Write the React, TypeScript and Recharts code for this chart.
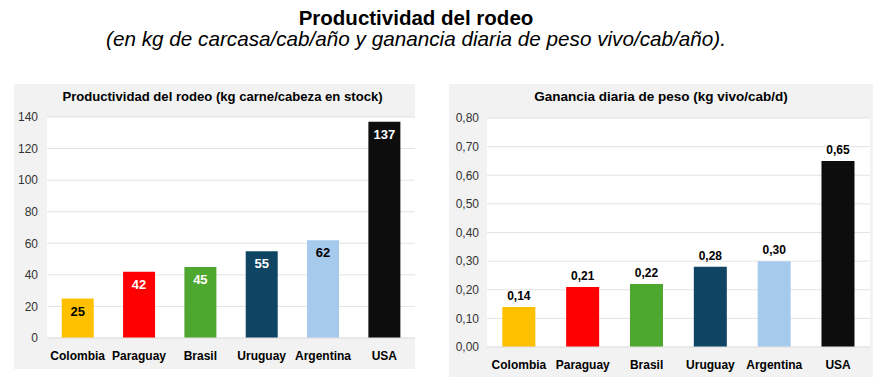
import React from "react";
import { BarChart, Bar, XAxis, YAxis, CartesianGrid, Cell, LabelList } from "recharts";

// countries shown in both panels
const countries = ["Colombia", "Paraguay", "Brasil", "Uruguay", "Argentina", "USA"];
const barColors = ["#FFC000", "#FF0000", "#4EA72E", "#0F4562", "#A6CAEC", "#0D0D0D"];

// kg carne / cabeza en stock
const productividad = [25, 42, 45, 55, 62, 137];
const productividadLabelColors = ["#000", "#fff", "#fff", "#fff", "#000", "#fff"];
const productividadTicks = [0, 20, 40, 60, 80, 100, 120, 140];

// kg vivo / cab / d
const ganancia = [0.14, 0.21, 0.22, 0.28, 0.3, 0.65];
const gananciaTicks = [0, 0.1, 0.2, 0.3, 0.4, 0.5, 0.6, 0.7, 0.8];

const leftData = countries.map((c, i) => ({ name: c, value: productividad[i] }));
const rightData = countries.map((c, i) => ({ name: c, value: ganancia[i] }));

const font = "Liberation Sans, Arial, sans-serif";
const fmtComma = (v: number) => v.toFixed(2).replace(".", ",");

const panelTitle: React.CSSProperties = {
  position: "absolute",
  top: 5,
  left: 0,
  right: 0,
  textAlign: "center",
  fontFamily: font,
  fontWeight: "bold",
  fontSize: 13.5,
  color: "#000",
};

// label drawn inside the top of the bar, color per bar
const InsideLabel = (props: any) => {
  const { x, y, width, value, index } = props;
  return (
    <text
      x={x + width / 2}
      y={y + 17}
      textAnchor="middle"
      fontFamily={font}
      fontWeight="bold"
      fontSize={13}
      fill={productividadLabelColors[index]}
    >
      {value}
    </text>
  );
};

const App = () => {
  return (
    <div style={{ position: "absolute", left: 0, top: 0, width: 885, height: 385, background: "#fff" }}>
      <div style={{ position: "absolute", left: 0, top: 6, width: 832, textAlign: "center", fontFamily: font, fontWeight: "bold", fontSize: 20.5, color: "#000" }}>
        Productividad del rodeo
      </div>
      <div style={{ position: "absolute", left: 0, top: 27, width: 832, textAlign: "center", fontFamily: font, fontStyle: "italic", fontSize: 20.7, color: "#000" }}>
        (en kg de carcasa/cab/año y ganancia diaria de peso vivo/cab/año).
      </div>

      {/* left panel */}
      <div style={{ position: "absolute", left: 14, top: 84, width: 401, height: 285, background: "#f2f2f2" }}>
        <div style={{ ...panelTitle, left: 16, fontSize: 13.1 }}>Productividad del rodeo (kg carne/cabeza en stock)</div>
        <BarChart
          width={401}
          height={285}
          data={leftData}
          margin={{ top: 33, right: 0, left: 0, bottom: 0 }}
          barCategoryGap="24%"
          style={{ position: "absolute", left: 0, top: 0 }}
        >
          <CartesianGrid vertical={false} stroke="#e3e3e3" fill="#fff" fillOpacity={1} />
          <XAxis
            dataKey="name"
            height={31}
            axisLine={{ stroke: "#e3e3e3" }}
            tickLine={false}
            interval={0}
            tick={{ fontFamily: font, fontSize: 12, fontWeight: "bold", fill: "#000" }}
            tickMargin={7}
          />
          <YAxis
            domain={[0, 140]}
            ticks={productividadTicks}
            axisLine={false}
            tickLine={false}
            tickSize={0}
            tickMargin={9}
            width={33}
            tick={{ fontFamily: font, fontSize: 12, fill: "#333" }}
          />
          <Bar dataKey="value" isAnimationActive={false}>
            {leftData.map((d, i) => (
              <Cell key={d.name} fill={barColors[i]} />
            ))}
            <LabelList dataKey="value" content={<InsideLabel />} />
          </Bar>
        </BarChart>
      </div>

      {/* right panel */}
      <div style={{ position: "absolute", left: 449, top: 84, width: 424, height: 293, background: "#f2f2f2" }}>
        <div style={panelTitle}>Ganancia diaria de peso (kg vivo/cab/d)</div>
        <BarChart
          width={424}
          height={293}
          data={rightData}
          margin={{ top: 34, right: 3, left: 0, bottom: 0 }}
          barCategoryGap="24%"
          style={{ position: "absolute", left: 0, top: 0 }}
        >
          <CartesianGrid vertical={false} stroke="#e3e3e3" fill="#fff" fillOpacity={1} />
          <XAxis
            dataKey="name"
            height={30}
            axisLine={{ stroke: "#e3e3e3" }}
            tickLine={false}
            interval={0}
            tick={{ fontFamily: font, fontSize: 12, fontWeight: "bold", fill: "#000" }}
            tickMargin={7}
          />
          <YAxis
            domain={[0, 0.8]}
            ticks={gananciaTicks}
            tickFormatter={fmtComma}
            axisLine={false}
            tickLine={false}
            tickSize={0}
            tickMargin={8}
            width={38}
            tick={{ fontFamily: font, fontSize: 12, fill: "#333" }}
          />
          <Bar dataKey="value" isAnimationActive={false}>
            {rightData.map((d, i) => (
              <Cell key={d.name} fill={barColors[i]} />
            ))}
            <LabelList
              dataKey="value"
              position="top"
              offset={7}
              formatter={(v: any) => fmtComma(Number(v))}
              style={{ fontFamily: font, fontSize: 12, fontWeight: "bold", fill: "#000" }}
            />
          </Bar>
        </BarChart>
      </div>
    </div>
  );
};

export default App;
